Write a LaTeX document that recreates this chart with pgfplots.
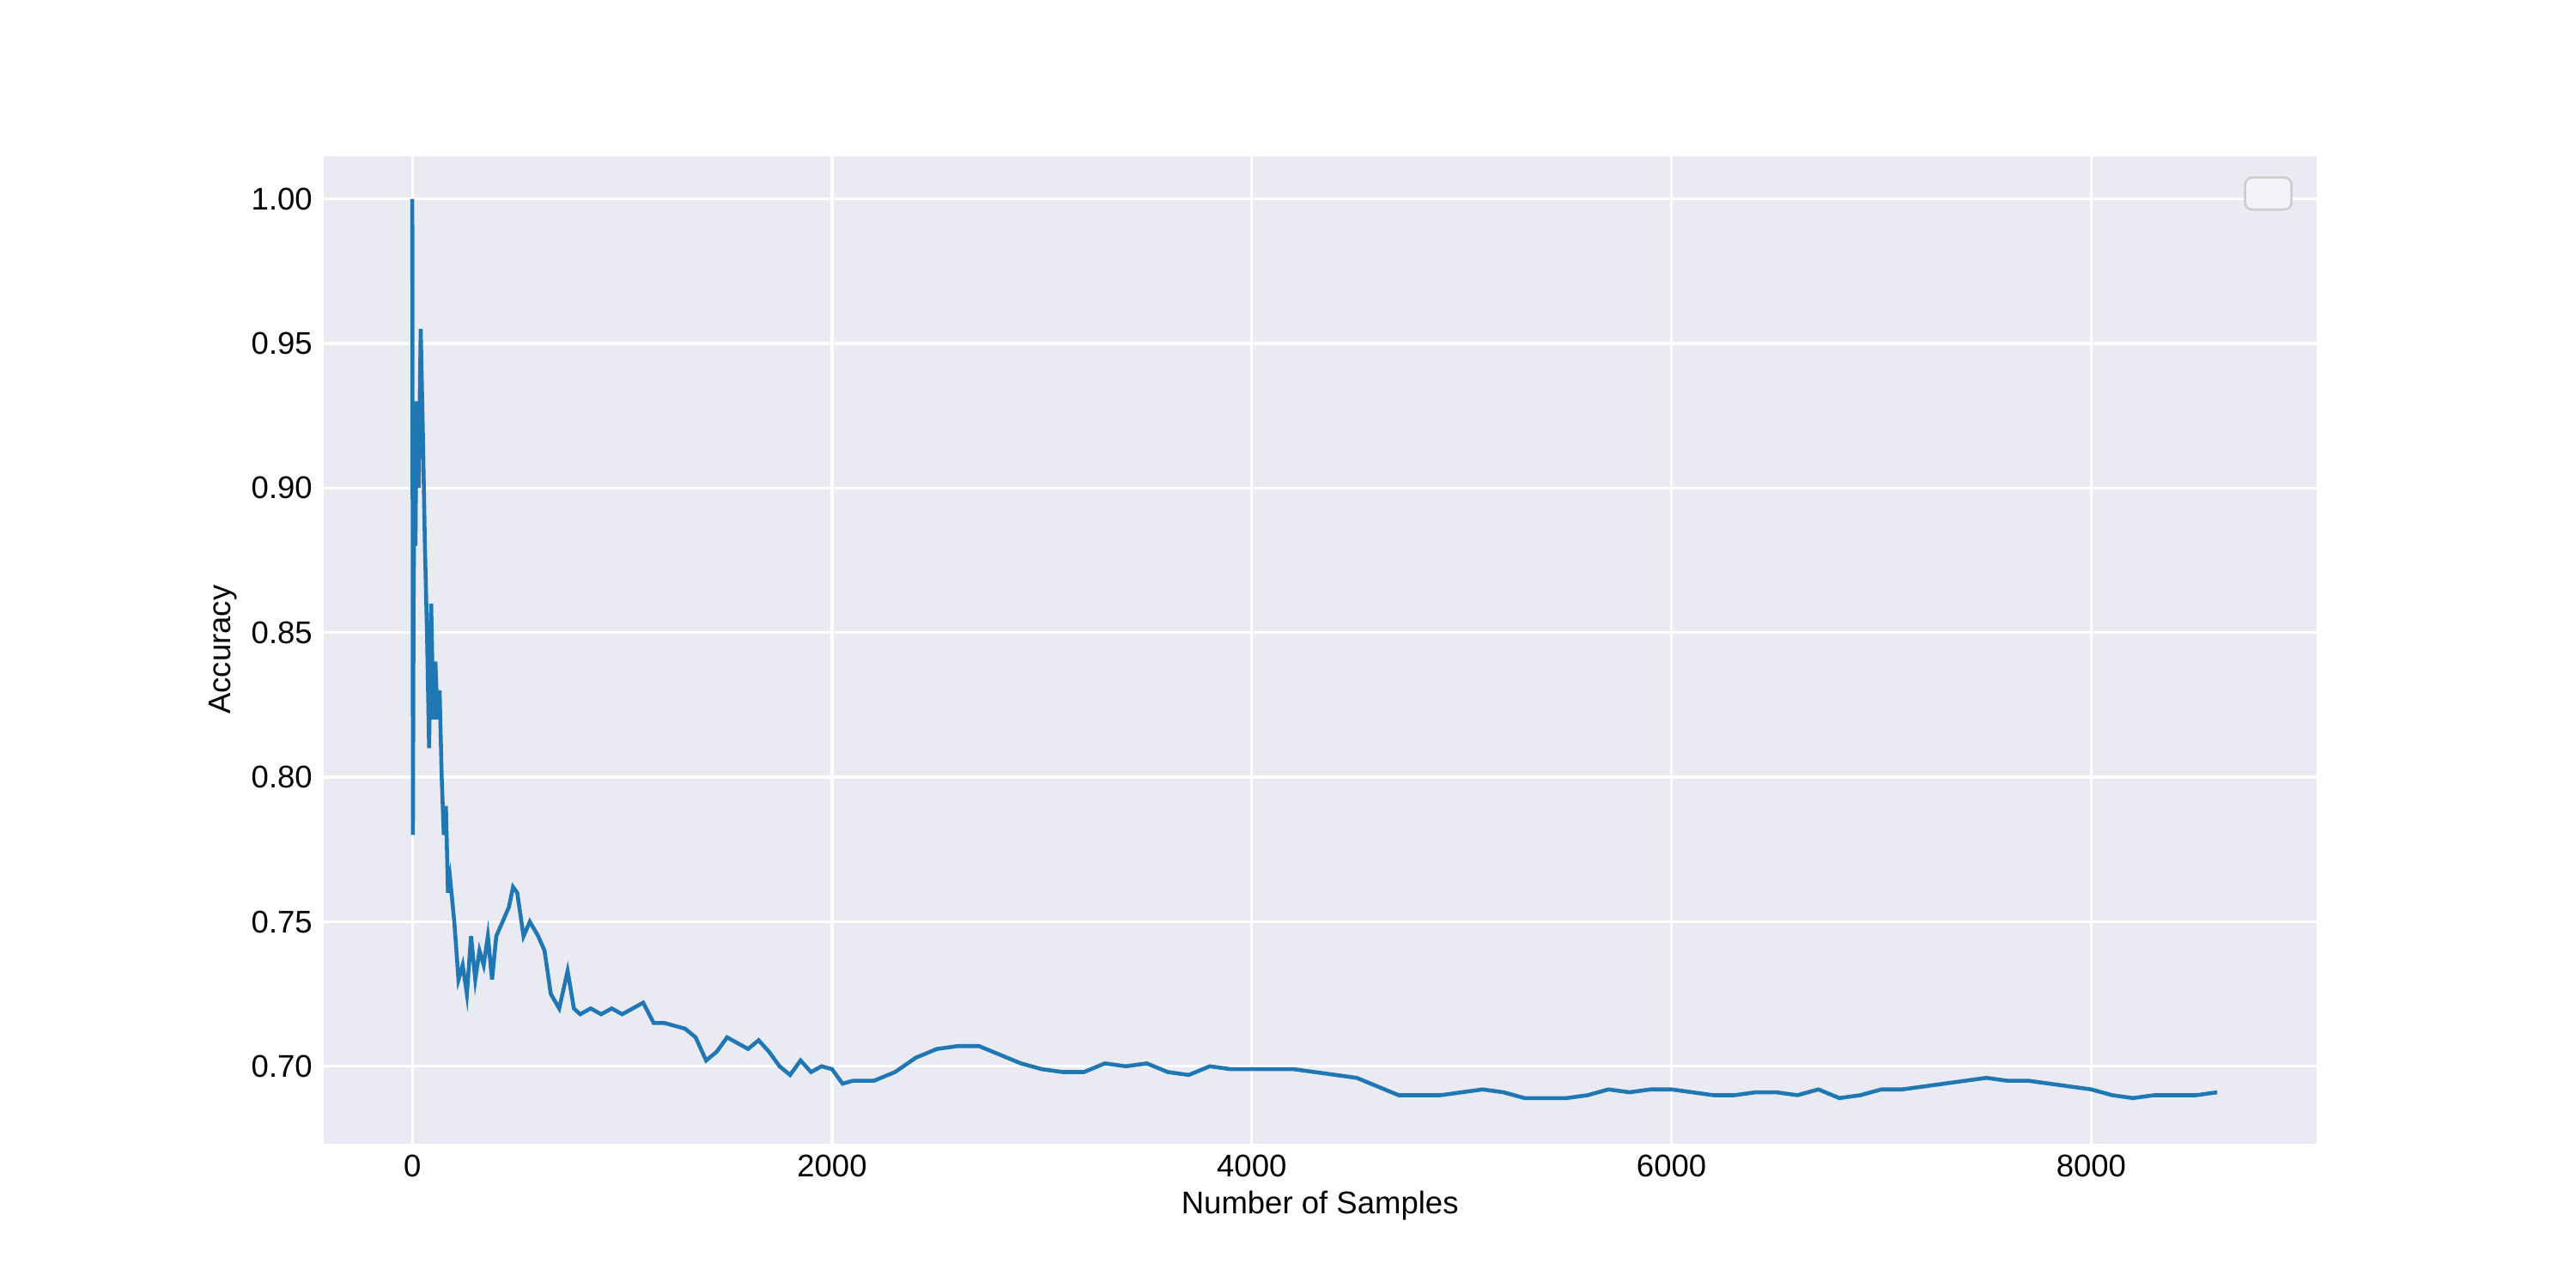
\documentclass[border=0pt]{standalone}
\usepackage{pgfplots}
\pgfplotsset{compat=1.18}
\usepackage{fontspec}
\setmainfont{Liberation Sans}
\definecolor{bg}{HTML}{EAEAF2}
\definecolor{ln}{HTML}{1F77B4}
\begin{document}
\fontsize{8.8}{10}\selectfont
\begin{tikzpicture}
\path[use as bounding box] (0,0) rectangle (10in,5in);
\begin{axis}[at={(1.256in,0.561in)}, anchor=south west,
  scale only axis, width=7.736in, height=3.833in,
  xmin=-423, xmax=9073, ymin=0.6733, ymax=1.0148,
  axis background/.style={fill=bg}, axis line style={draw=none},
  grid=major, major grid style={white, line width=0.8pt},
  tick style={draw=none},
  xtick={0,2000,4000,6000,8000}, ytick={0.70,0.75,0.80,0.85,0.90,0.95,1.00},
  yticklabel style={/pgf/number format/.cd, fixed, fixed zerofill, precision=2},
  /pgf/number format/assume math mode=true,
  xticklabel style={/pgf/number format/1000 sep={}},
  xlabel={Number of Samples}, ylabel={Accuracy},
  xlabel style={yshift=2pt}, ylabel style={yshift=-2pt},
  every tick label/.append style={font=\fontsize{8.8}{10}\selectfont},
  label style={font=\fontsize{8.8}{10}\selectfont},
]
\addplot[ln, line width=1.1pt] coordinates {
(0,1.0)(3,0.78)(6,0.86)(10,0.90)(15,0.88)(20,0.93)(30,0.90)(40,0.955)(50,0.92)(60,0.88)(70,0.85)(80,0.81)(90,0.86)(100,0.82)(110,0.84)(120,0.82)(130,0.83)(140,0.80)(150,0.78)(160,0.79)(170,0.76)(180,0.765)(200,0.75)(220,0.73)(240,0.735)(260,0.725)(280,0.745)(300,0.73)(320,0.74)(340,0.735)(360,0.745)(380,0.73)(400,0.745)(430,0.75)(460,0.755)(480,0.762)(500,0.76)(530,0.745)(560,0.75)(600,0.745)(630,0.74)(660,0.725)(700,0.72)(740,0.733)(770,0.72)(800,0.718)(850,0.72)(900,0.718)(950,0.72)(1000,0.718)(1050,0.72)(1100,0.722)(1150,0.715)(1200,0.715)(1300,0.713)(1350,0.71)(1400,0.702)(1450,0.705)(1500,0.71)(1550,0.708)(1600,0.706)(1650,0.709)(1700,0.705)(1750,0.7)(1800,0.697)(1850,0.702)(1900,0.698)(1950,0.7)(2000,0.699)(2050,0.694)(2100,0.695)(2200,0.695)(2300,0.698)(2400,0.703)(2500,0.706)(2600,0.707)(2700,0.707)(2800,0.704)(2900,0.701)(3000,0.699)(3100,0.698)(3200,0.698)(3300,0.701)(3400,0.7)(3500,0.701)(3600,0.698)(3700,0.697)(3800,0.7)(3900,0.699)(4000,0.699)(4100,0.699)(4200,0.699)(4300,0.698)(4400,0.697)(4500,0.696)(4600,0.693)(4700,0.69)(4800,0.69)(4900,0.69)(5000,0.691)(5100,0.692)(5200,0.691)(5300,0.689)(5400,0.689)(5500,0.689)(5600,0.69)(5700,0.692)(5800,0.691)(5900,0.692)(6000,0.692)(6100,0.691)(6200,0.69)(6300,0.69)(6400,0.691)(6500,0.691)(6600,0.69)(6700,0.692)(6800,0.689)(6900,0.69)(7000,0.692)(7100,0.692)(7200,0.693)(7300,0.694)(7400,0.695)(7500,0.696)(7600,0.695)(7700,0.695)(7800,0.694)(7900,0.693)(8000,0.692)(8100,0.69)(8200,0.689)(8300,0.69)(8400,0.69)(8500,0.69)(8600,0.691)
};
\draw[rounded corners=2pt, draw=gray!40, fill=bg!60!white, line width=0.6pt]
  ([xshift=-20pt,yshift=-6pt]rel axis cs:1,1) rectangle ([xshift=-7pt,yshift=-15pt]rel axis cs:1,1);
\end{axis}
\end{tikzpicture}
\end{document}
